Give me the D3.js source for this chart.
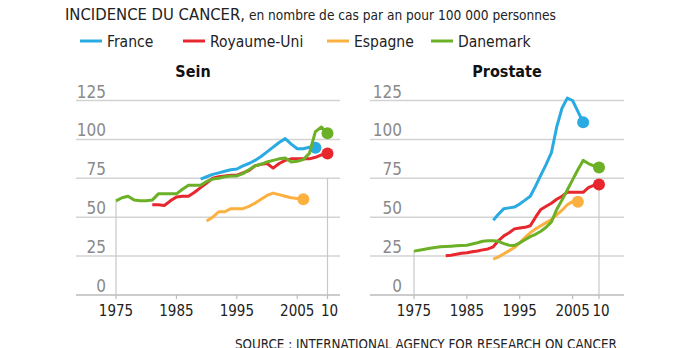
<!DOCTYPE html>
<html>
<head>
<meta charset="utf-8">
<script src="https://cdn.jsdelivr.net/npm/d3@7"></script>
<style>
  body { margin: 0; background: #fff; }
  svg { display: block; font-family: "DejaVu Sans Condensed", "Liberation Sans Narrow", sans-serif; }
</style>
</head>
<body>
<div id="chart"></div>
<script>
// Country names and colours
var countries = ["France", "Royaume-Uni", "Espagne", "Danemark"];
var colors = ["#29abe2", "#e8262d", "#fbb040", "#6bb026"];

// Sein (breast) : [year, value]
var seinFrance = [[1989,74.5],[1990,76],[1991,77.5],[1992,78.5],[1993,79.5],[1994,80.5],[1995,81],[1996,83],[1997,84.5],[1998,86.5],[1999,89],[2000,92],[2001,95],[2002,98],[2003,100.5],[2004,97],[2005,94],[2006,94],[2007,95],[2008,94.7]];
var seinRU = [[1981,58],[1982,58],[1983,57.5],[1984,60.5],[1985,63],[1986,63.5],[1987,63.5],[1988,66],[1989,69],[1990,72],[1991,75],[1992,76],[1993,76.5],[1994,77],[1995,77],[1996,78.5],[1997,80],[1998,83],[1999,84],[2000,84.5],[2001,81.5],[2002,84.5],[2003,86.5],[2004,87.5],[2005,87.5],[2006,87.5],[2007,87.5],[2008,88.5],[2009,90],[2010,91]];
var seinEspagne = [[1990,47.5],[1991,50],[1992,53.5],[1993,53.5],[1994,55.5],[1995,55.5],[1996,55.5],[1997,57],[1998,59],[1999,61.5],[2000,64],[2001,65.5],[2002,64.5],[2003,63.5],[2004,62.5],[2005,62],[2006,61.5]];
var seinDanemark = [[1975,60.5],[1976,62.5],[1977,63.5],[1978,61],[1979,60.5],[1980,60.5],[1981,61],[1982,65],[1983,65],[1984,65],[1985,65],[1986,68],[1987,70.5],[1988,70.5],[1989,70.5],[1990,73],[1991,74.5],[1992,75],[1993,76],[1994,76.5],[1995,76.5],[1996,78],[1997,80.5],[1998,83],[1999,84],[2000,85.5],[2001,86.5],[2002,87.5],[2003,88],[2004,85.5],[2005,86],[2006,87],[2007,91],[2008,105],[2009,108],[2010,104]];

// Prostate : [year, value]
var prostFrance = [[1990,48],[1991,52],[1992,55.5],[1993,56],[1994,56.5],[1995,58.5],[1996,61],[1997,63.5],[1998,70],[1999,77],[2000,84],[2001,91.5],[2002,108],[2003,120],[2004,126.5],[2005,125],[2006,118],[2007,111]];
var prostRU = [[1981,25.2],[1982,25.6],[1983,26.2],[1984,26.8],[1985,27.2],[1986,27.8],[1987,28.3],[1988,29],[1989,29.6],[1990,31],[1991,35],[1992,38],[1993,40],[1994,42.5],[1995,43],[1996,43.5],[1997,44.5],[1998,50],[1999,55],[2000,57],[2001,59],[2002,61.5],[2003,63.5],[2004,66],[2005,66],[2006,66],[2007,66],[2008,69],[2009,70.5],[2010,71]];
var prostEspagne = [[1990,23],[1991,24.5],[1992,26.5],[1993,28.5],[1994,30.5],[1995,33.5],[1996,37],[1997,40],[1998,42.5],[1999,44.5],[2000,46.5],[2001,48.5],[2002,51.5],[2003,54.5],[2004,58],[2005,60],[2006,60]];
var prostDanemark = [[1975,28.2],[1976,28.8],[1977,29.4],[1978,30],[1979,30.5],[1980,31],[1981,31.2],[1982,31.4],[1983,31.6],[1984,31.8],[1985,32],[1986,32.8],[1987,33.6],[1988,34.5],[1989,34.8],[1990,34.8],[1991,34.5],[1992,33],[1993,32],[1994,31.8],[1995,33.5],[1996,35.5],[1997,37.5],[1998,39],[1999,41],[2000,43.5],[2001,47],[2002,55],[2003,61],[2004,67.5],[2005,74],[2006,80.5],[2007,86.5],[2008,84.5],[2009,83],[2010,82]];

// Axis ticks
var yTicks = [0, 25, 50, 75, 100, 125];
var xTicks = [1975, 1985, 1995, 2005, 2010];
var xTickLabels = ["1975", "1985", "1995", "2005", "10"];

var width = 696, height = 348;

var svg = d3.select("#chart").append("svg")
    .attr("width", width)
    .attr("height", height);

// Title
var title = svg.append("text")
    .attr("x", 65)
    .attr("y", 20)
    .style("fill", "#222");
title.append("tspan").style("font-size", "16.5px").text("INCIDENCE DU CANCER,");
title.append("tspan").style("font-size", "13.6px").text(" en nombre de cas par an pour 100 000 personnes");

// Legend
var legendX = [80, 183, 327, 431];
countries.forEach(function (c, i) {
    svg.append("line")
        .attr("x1", legendX[i]).attr("x2", legendX[i] + 22)
        .attr("y1", 41).attr("y2", 41)
        .style("stroke", colors[i])
        .style("stroke-width", 3);
    svg.append("text")
        .attr("x", legendX[i] + 27)
        .attr("y", 47)
        .style("font-size", "15.5px")
        .style("fill", "#222")
        .text(c);
});

// Panels
var panels = [
    { name: "Sein", series: [seinFrance, seinRU, seinEspagne, seinDanemark],
      gridX: [76, 340], xRange: [116, 327.5], labelX: 106, titleX: 193,
      leftTop: 60.5, rightTop: 75 },
    { name: "Prostate", series: [prostFrance, prostRU, prostEspagne, prostDanemark],
      gridX: [370, 624], xRange: [414, 599], labelX: 402, titleX: 507,
      leftTop: 28.2, rightTop: 71 }
];

var y = d3.scaleLinear().domain([0, 125]).range([295, 100.5]);

panels.forEach(function (p) {
    var x = d3.scaleLinear().domain([1975, 2010]).range(p.xRange);
    var g = svg.append("g");

    // panel title
    g.append("text")
        .attr("x", p.titleX)
        .attr("y", 77)
        .attr("text-anchor", "middle")
        .style("font-size", "16px")
        .style("font-weight", "bold")
        .style("fill", "#111")
        .text(p.name);

    // horizontal grid lines
    g.selectAll(".grid")
        .data(yTicks)
        .enter().append("line")
        .attr("x1", p.gridX[0]).attr("x2", p.gridX[1])
        .attr("y1", function (d) { return y(d); })
        .attr("y2", function (d) { return y(d); })
        .style("stroke", function (d) { return d === 0 ? "#bbb" : "#d3d3d3"; })
        .style("stroke-width", 1.5);

    // y labels
    g.selectAll(".ylab")
        .data(yTicks)
        .enter().append("text")
        .attr("x", p.labelX)
        .attr("y", function (d) { return y(d) - 3; })
        .attr("text-anchor", "end")
        .style("font-size", "17px")
        .style("fill", "#8a8a8a")
        .text(function (d) { return d; });

    // x ticks (small)
    g.selectAll(".xtick")
        .data(xTicks)
        .enter().append("line")
        .attr("x1", function (d) { return x(d); })
        .attr("x2", function (d) { return x(d); })
        .attr("y1", y(0)).attr("y2", y(0) + 4)
        .style("stroke", "#bbb")
        .style("stroke-width", 1.2);

    // tall guide lines at first and last year
    g.append("line")
        .attr("x1", x(1975)).attr("x2", x(1975))
        .attr("y1", y(0)).attr("y2", y(p.leftTop))
        .style("stroke", "#c8c8c8").style("stroke-width", 1.2);
    g.append("line")
        .attr("x1", x(2010)).attr("x2", x(2010))
        .attr("y1", y(0)).attr("y2", y(p.rightTop))
        .style("stroke", "#c8c8c8").style("stroke-width", 1.2);

    // x labels
    g.selectAll(".xlab")
        .data(xTicks)
        .enter().append("text")
        .attr("x", function (d, i) { return x(d) + (i === 4 ? 2 : 0); })
        .attr("y", 316)
        .attr("text-anchor", "middle")
        .style("font-size", "15px")
        .style("fill", "#222")
        .text(function (d, i) { return xTickLabels[i]; });

    var line = d3.line()
        .x(function (d) { return x(d[0]); })
        .y(function (d) { return y(d[1]); });

    // draw series, layered as in the picture
    var order = [2, 0, 1, 3];
    order.forEach(function (i) {
        var s = p.series[i];
        g.append("path")
            .datum(s)
            .attr("d", line)
            .style("fill", "none")
            .style("stroke", colors[i])
            .style("stroke-width", 3)
            .style("stroke-linejoin", "round");
        var last = s[s.length - 1];
        g.append("circle")
            .attr("cx", x(last[0]))
            .attr("cy", y(last[1]))
            .attr("r", 6)
            .style("fill", colors[i]);
    });
});

// Source
svg.append("text")
    .attr("x", 235)
    .attr("y", 348.5)
    .style("font-size", "13.3px")
    .style("fill", "#222")
    .text("SOURCE : INTERNATIONAL AGENCY FOR RESEARCH ON CANCER");
</script>
</body>
</html>
